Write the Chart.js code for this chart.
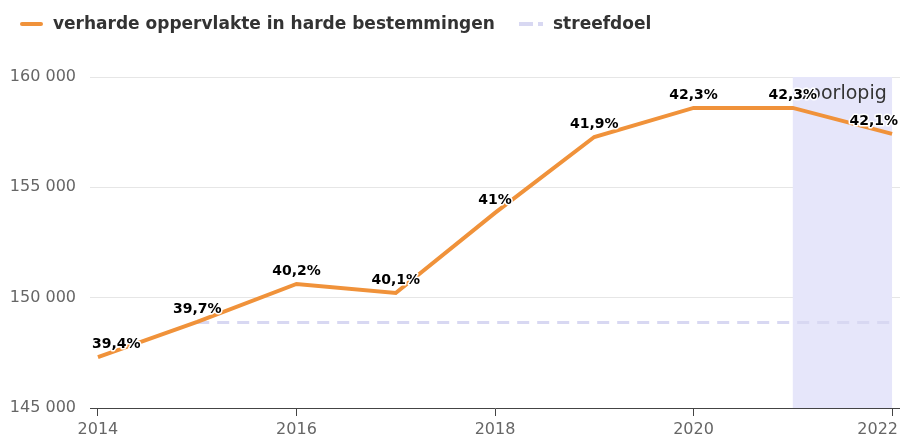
<!DOCTYPE html>
<html>
<head>
<meta charset="utf-8">
<script src="https://cdn.jsdelivr.net/npm/chart.js@4/dist/chart.umd.min.js"></script>
<style>
    body { margin: 0; background: #fff; font-family: "DejaVu Sans", sans-serif; }
    #wrap { position: relative; width: 900px; height: 438px; }
    #chart { position: absolute; left: 0; top: 0; }
    .lg-line { position: absolute; height: 4px; }
    .lg-text { position: absolute; top: 13px; font-size: 17px; font-weight: bold; color: #333; white-space: nowrap; }
</style>
</head>
<body>
<div id="wrap">
    <canvas id="chart" width="900" height="438"></canvas>
    <span class="lg-line" style="left:20px; top:22px; width:23px; background:#f0923a; border-radius:2px;"></span>
    <span class="lg-text" style="left:53px;">verharde oppervlakte in harde bestemmingen</span>
    <span class="lg-line" style="left:519px; top:22px; width:24px; background:repeating-linear-gradient(90deg, #d8d8f2 0 14px, transparent 14px 19px);"></span>
    <span class="lg-text" style="left:553px;">streefdoel</span>
</div>
<script>
'use strict'

const years = [2014, 2015, 2016, 2017, 2018, 2019, 2020, 2021, 2022];
const surface = [147310, 148900, 150620, 150210, 153840, 157280, 158600, 158600, 157420];
const shareLabels = ['39,4%', '39,7%', '40,2%', '40,1%', '41%', '41,9%', '42,3%', '42,3%', '42,1%'];
const targetYears = [2015, 2022];
const targetValues = [148880, 148880];
const xTicks = [2014, 2016, 2018, 2020, 2022];
const provisional = [2021, 2022];
const provisionalLabel = 'voorlopig';

const fmt = v => String(v).replace(/\B(?=(\d{3})+(?!\d))/g, ' ');

// shaded band for provisional years
const bandPlugin = {
    id: 'band',
    beforeDatasetsDraw(chart) {
        const { ctx, chartArea, scales } = chart;
        const x1 = scales.x.getPixelForValue(provisional[0]);
        const x2 = scales.x.getPixelForValue(provisional[1]);
        ctx.save();
        ctx.fillStyle = '#e6e6fa';
        ctx.fillRect(x1, chartArea.top, x2 - x1, chartArea.bottom - chartArea.top);
        ctx.font = '19px "DejaVu Sans"';
        ctx.fillStyle = '#333';
        ctx.textAlign = 'center';
        ctx.textBaseline = 'alphabetic';
        ctx.fillText(provisionalLabel, (x1 + x2) / 2, chartArea.top + 22);
        ctx.restore();
    }
};

// percentage labels above each point, plus x labels kept inside the canvas
const labelPlugin = {
    id: 'pointLabels',
    afterDatasetsDraw(chart) {
        const { ctx, chartArea } = chart;
        const meta = chart.getDatasetMeta(0);
        ctx.save();
        ctx.font = 'bold 14px "DejaVu Sans"';
        ctx.textAlign = 'center';
        ctx.textBaseline = 'bottom';
        ctx.lineJoin = 'round';
        meta.data.forEach((pt, i) => {
            const text = shareLabels[i];
            const w = ctx.measureText(text).width;
            const x = Math.max(chartArea.left + w / 2 + 2, Math.min(chartArea.right - w / 2 - 2, pt.x));
            const y = pt.y - 6;
            ctx.strokeStyle = '#fff';
            ctx.lineWidth = 3;
            ctx.strokeText(text, x, y);
            ctx.fillStyle = '#000';
            ctx.fillText(text, x, y);
        });
        ctx.restore();
    },
    afterDraw(chart) {
        const { ctx, scales, width } = chart;
        ctx.save();
        ctx.font = '16px "DejaVu Sans"';
        ctx.fillStyle = '#666';
        ctx.textAlign = 'center';
        ctx.textBaseline = 'middle';
        xTicks.forEach(v => {
            const text = String(v);
            const w = ctx.measureText(text).width;
            const x = Math.min(width - w / 2 - 2, scales.x.getPixelForValue(v));
            ctx.fillText(text, x, scales.x.bottom - 8);
        });
        ctx.restore();
    }
};

new Chart(document.getElementById('chart'), {
    type: 'line',
    data: {
        datasets: [
            {
                label: 'verharde oppervlakte in harde bestemmingen',
                data: years.map((y, i) => ({ x: y, y: surface[i] })),
                borderColor: '#f0923a',
                borderWidth: 4,
                pointRadius: 0,
                tension: 0,
                order: 1
            },
            {
                label: 'streefdoel',
                data: targetYears.map((y, i) => ({ x: y, y: targetValues[i] })),
                borderColor: '#d8d8f2',
                borderWidth: 3,
                borderDash: [12, 8],
                pointRadius: 0,
                order: 2
            }
        ]
    },
    options: {
        responsive: false,
        animation: false,
        layout: { padding: { top: 77, right: 0, left: 0, bottom: 0 } },
        plugins: {
            legend: { display: false },
            tooltip: { enabled: false }
        },
        scales: {
            x: {
                type: 'linear',
                min: 2014 - 0.08,
                max: 2022 + 0.08,
                afterBuildTicks: s => { s.ticks = xTicks.map(v => ({ value: v })); },
                afterFit: s => { s.height = 30; s.paddingLeft = 0; s.paddingRight = 0; },
                grid: { drawOnChartArea: false, tickLength: 8, color: '#444' },
                border: { color: '#444', width: 1 },
                ticks: { display: false }
            },
            y: {
                min: 145000,
                max: 160000,
                afterFit: s => { s.width = 90; },
                grid: { color: '#e6e6e6', tickLength: 0 },
                border: { display: false },
                ticks: {
                    stepSize: 5000,
                    padding: 14,
                    color: '#666',
                    font: { family: 'DejaVu Sans', size: 16 },
                    callback: v => fmt(v)
                }
            }
        }
    },
    plugins: [bandPlugin, labelPlugin]
});
</script>
</body>
</html>
